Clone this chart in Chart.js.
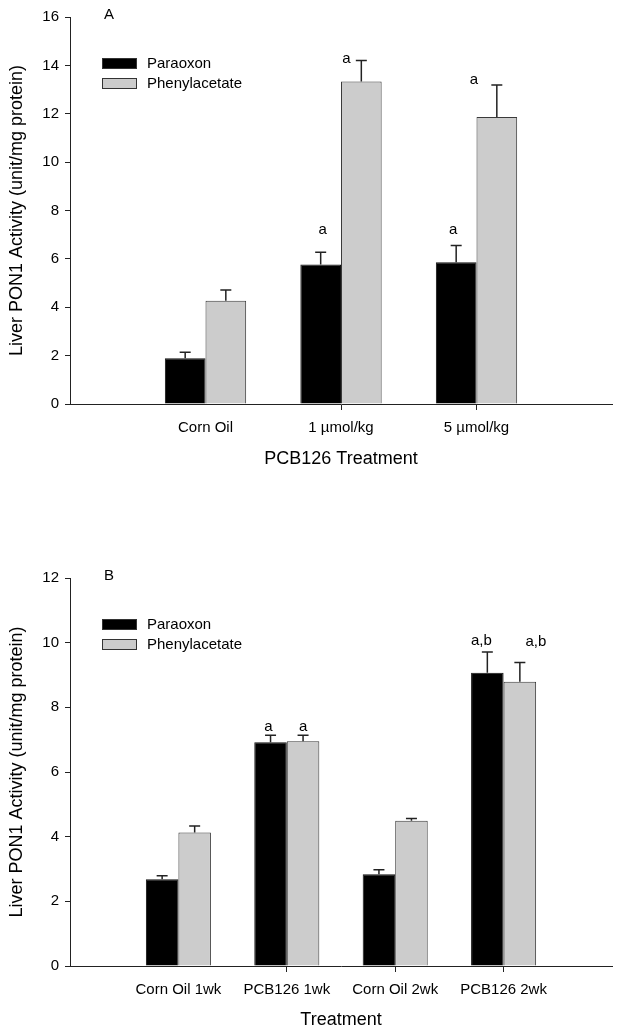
<!DOCTYPE html>
<html>
<head>
<meta charset="utf-8">
<script src="https://cdn.jsdelivr.net/npm/chart.js@4.4.1/dist/chart.umd.min.js"></script>
<style>
  body { margin: 0; background: #fff; }
  #wrap { position: relative; width: 621px; height: 1036px; }
  canvas { position: absolute; left: 0; }
  #chartA { top: 0; }
  #chartB { top: 490px; }
</style>
</head>
<body>
<div id="wrap">
  <canvas id="chartA" width="621" height="490"></canvas>
  <canvas id="chartB" width="621" height="546"></canvas>
</div>
<script>
// ---- panel A data ----
const catsA = ['Corn Oil', '1 µmol/kg', '5 µmol/kg'];
const paraoxonA = [1.89, 5.77, 5.86];
const paraoxonErrA = [0.25, 0.50, 0.69];
const phenylA = [4.27, 13.33, 11.87];
const phenylErrA = [0.44, 0.87, 1.32];
const paraoxonSigA = ['', 'a', 'a'];
const phenylSigA = ['', 'a', 'a'];
const ticksA = [0, 2, 4, 6, 8, 10, 12, 14, 16];

// ---- panel B data ----
const catsB = ['Corn Oil 1wk', 'PCB126 1wk', 'Corn Oil 2wk', 'PCB126 2wk'];
const paraoxonB = [2.68, 6.92, 2.84, 9.07];
const paraoxonErrB = [0.11, 0.22, 0.14, 0.64];
const phenylB = [4.13, 6.95, 4.49, 8.79];
const phenylErrB = [0.20, 0.19, 0.07, 0.60];
const paraoxonSigB = ['', 'a', '', 'a,b'];
const phenylSigB = ['', 'a', '', 'a,b'];
const ticksB = [0, 2, 4, 6, 8, 10, 12];

const seriesNames = ['Paraoxon', 'Phenylacetate'];

const FONT = "'Liberation Sans', Arial, Helvetica, sans-serif";
const AXIS = '#222';

// empty slot on each side of the categories, like the original plot
const pad = arr => [null, ...arr, null];

// error bars, significance letters, panel letter and legend
const extrasPlugin = {
	id: 'extras',
	afterDatasetsDraw(chart, args, opts) {
		const ctx = chart.ctx;
		const y = chart.scales.y;
		const area = chart.chartArea;

		ctx.save();
		chart.data.datasets.forEach((ds, di) => {
			const meta = chart.getDatasetMeta(di);
			meta.data.forEach((bar, i) => {
				const v = ds.data[i];
				if (v == null) return;
				const yTop = y.getPixelForValue(v + opts.errors[di][i]);
				ctx.strokeStyle = AXIS;
				ctx.lineWidth = 1.5;
				ctx.beginPath();
				ctx.moveTo(bar.x, bar.y);
				ctx.lineTo(bar.x, yTop);
				ctx.moveTo(bar.x - 5.5, yTop);
				ctx.lineTo(bar.x + 5.5, yTop);
				ctx.stroke();

				const txt = opts.sig[di][i];
				if (txt) {
					const off = opts.sigOffset[di][i];
					ctx.fillStyle = '#000';
					ctx.font = '15px ' + FONT;
					ctx.textAlign = 'center';
					ctx.textBaseline = 'middle';
					ctx.fillText(txt, bar.x + off[0], yTop + off[1]);
				}
			});
		});

		// panel letter
		ctx.fillStyle = '#000';
		ctx.font = '15px ' + FONT;
		ctx.textAlign = 'center';
		ctx.textBaseline = 'middle';
		ctx.fillText(opts.panel, area.left + 39, area.top - 2);

		// legend
		chart.data.datasets.forEach((ds, di) => {
			const top = area.top + 41 + di * 20;
			ctx.fillStyle = ds.backgroundColor;
			ctx.fillRect(area.left + 32, top, 35, 11);
			ctx.strokeStyle = '#333';
			ctx.lineWidth = 1;
			ctx.strokeRect(area.left + 32.5, top + 0.5, 34, 10);
			ctx.fillStyle = '#000';
			ctx.textAlign = 'left';
			ctx.fillText(ds.label, area.left + 77, top + 6);
		});
		ctx.restore();
	}
};

function makeChart(id, cfg) {
	const labels = pad(cfg.cats);
	return new Chart(document.getElementById(id), {
		type: 'bar',
		data: {
			labels: labels,
			datasets: [
				{
					label: seriesNames[0],
					data: pad(cfg.paraoxon),
					backgroundColor: '#000000',
					borderColor: '#111',
					borderWidth: 1
				},
				{
					label: seriesNames[1],
					data: pad(cfg.phenyl),
					backgroundColor: '#cccccc',
					borderColor: '#3a3a3a',
					borderWidth: 1
				}
			]
		},
		options: {
			responsive: false,
			animation: false,
			events: [],
			categoryPercentage: 0.6,
			barPercentage: 1.0,
			layout: {
				padding: { top: cfg.padTop, right: 9, left: 0, bottom: 0 }
			},
			plugins: {
				legend: { display: false },
				tooltip: { enabled: false },
				extras: {
					errors: [pad(cfg.paraoxonErr), pad(cfg.phenylErr)],
					sig: [pad(cfg.paraoxonSig), pad(cfg.phenylSig)],
					sigOffset: [pad(cfg.paraoxonOff), pad(cfg.phenylOff)],
					panel: cfg.panel
				}
			},
			scales: {
				x: {
					offset: false,
					afterFit: s => { s.height = cfg.xHeight; },
					grid: {
						offset: false,
						drawOnChartArea: false,
						tickLength: 6,
						color: c => (labels[c.index] ? AXIS : 'rgba(0,0,0,0)')
					},
					border: { display: true, color: AXIS, width: 1 },
					ticks: {
						autoSkip: false,
						maxRotation: 0,
						padding: 9,
						color: '#000',
						font: { family: FONT, size: 15 }
					},
					title: {
						display: true,
						text: cfg.xTitle,
						color: '#000',
						font: { family: FONT, size: 18 },
						padding: { top: 0, bottom: cfg.xTitlePad }
					}
				},
				y: {
					min: 0,
					max: cfg.ticks[cfg.ticks.length - 1],
					afterFit: s => { s.width = 70; },
					afterBuildTicks: s => { s.ticks = cfg.ticks.map(v => ({ value: v })); },
					grid: {
						drawOnChartArea: false,
						tickLength: 5,
						color: AXIS
					},
					border: { display: true, color: AXIS, width: 1 },
					ticks: {
						padding: 6,
						color: '#000',
						font: { family: FONT, size: 15 }
					},
					title: {
						display: true,
						text: 'Liver PON1 Activity (unit/mg protein)',
						color: '#000',
						font: { family: FONT, size: 18 },
						padding: { top: 6, bottom: 0 }
					}
				}
			}
		},
		plugins: [extrasPlugin]
	});
}

document.addEventListener('DOMContentLoaded', () => {
	makeChart('chartA', {
		cats: catsA,
		paraoxon: paraoxonA, paraoxonErr: paraoxonErrA, paraoxonSig: paraoxonSigA,
		phenyl: phenylA, phenylErr: phenylErrA, phenylSig: phenylSigA,
		paraoxonOff: [[0, 0], [2, -22], [-3, -16]],
		phenylOff: [[0, 0], [-15, -2], [-23, -5]],
		ticks: ticksA,
		panel: 'A',
		xTitle: 'PCB126 Treatment',
		padTop: 17,
		xHeight: 86,
		xTitlePad: 20
	});

	makeChart('chartB', {
		cats: catsB,
		paraoxon: paraoxonB, paraoxonErr: paraoxonErrB, paraoxonSig: paraoxonSigB,
		phenyl: phenylB, phenylErr: phenylErrB, phenylSig: phenylSigB,
		paraoxonOff: [[0, 0], [-2, -8], [0, 0], [-6, -11]],
		phenylOff: [[0, 0], [0, -8], [0, 0], [16, -21]],
		ticks: ticksB,
		panel: 'B',
		xTitle: 'Treatment',
		padTop: 88,
		xHeight: 70,
		xTitlePad: 5
	});
});
</script>
</body>
</html>
